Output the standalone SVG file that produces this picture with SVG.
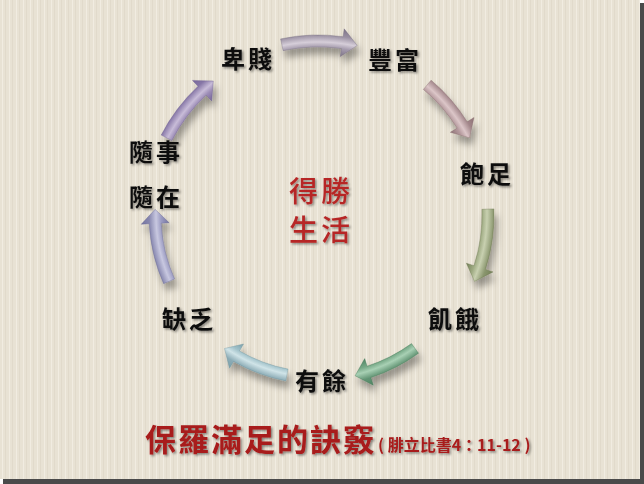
<svg xmlns="http://www.w3.org/2000/svg" width="644" height="484" viewBox="0 0 644 484">
<defs>
<pattern id="stripes" x="0" y="0" width="7" height="10" patternUnits="userSpaceOnUse">
<rect x="0" y="0" width="7" height="10" fill="#e8e2d4"/>
<rect x="2" y="0" width="1" height="10" fill="#f1ece1"/>
<rect x="5" y="0" width="1" height="10" fill="#e1dacb"/>
</pattern>
<filter id="ashadow" x="-30%" y="-30%" width="160%" height="170%">
<feDropShadow dx="3" dy="7" stdDeviation="3.5" flood-color="#000" flood-opacity="0.35"/>
</filter>
<filter id="tshadow" x="-10%" y="-10%" width="130%" height="140%">
<feDropShadow dx="1.5" dy="1.5" stdDeviation="1" flood-color="#000" flood-opacity="0.45"/>
</filter>
<radialGradient id="g1" gradientUnits="userSpaceOnUse" cx="318" cy="215" r="200">
<stop offset="0.80" stop-color="#7e7488"/><stop offset="0.84" stop-color="#a69cae"/><stop offset="0.865" stop-color="#d6ced9"/><stop offset="0.90" stop-color="#9a90a2"/><stop offset="0.94" stop-color="#7e7488"/>
</radialGradient>
<radialGradient id="g2" gradientUnits="userSpaceOnUse" cx="318" cy="215" r="200">
<stop offset="0.78" stop-color="#8e7276"/><stop offset="0.82" stop-color="#b59a9e"/><stop offset="0.845" stop-color="#dcc6c8"/><stop offset="0.88" stop-color="#a2868a"/><stop offset="0.92" stop-color="#8e7276"/>
</radialGradient>
<radialGradient id="g3" gradientUnits="userSpaceOnUse" cx="318" cy="215" r="200">
<stop offset="0.78" stop-color="#748058"/><stop offset="0.82" stop-color="#9eaa82"/><stop offset="0.845" stop-color="#c8d0b0"/><stop offset="0.88" stop-color="#8a966e"/><stop offset="0.92" stop-color="#748058"/>
</radialGradient>
<radialGradient id="g4" gradientUnits="userSpaceOnUse" cx="318" cy="215" r="200">
<stop offset="0.755" stop-color="#4e8462"/><stop offset="0.795" stop-color="#76a886"/><stop offset="0.82" stop-color="#a8d0b4"/><stop offset="0.855" stop-color="#629474"/><stop offset="0.895" stop-color="#4e8462"/>
</radialGradient>
<radialGradient id="g5" gradientUnits="userSpaceOnUse" cx="318" cy="215" r="200">
<stop offset="0.745" stop-color="#7aa0aa"/><stop offset="0.785" stop-color="#a2c2ca"/><stop offset="0.81" stop-color="#d0e4e8"/><stop offset="0.845" stop-color="#8cacb6"/><stop offset="0.885" stop-color="#7aa0aa"/>
</radialGradient>
<radialGradient id="g6" gradientUnits="userSpaceOnUse" cx="318" cy="215" r="200">
<stop offset="0.745" stop-color="#7474a0"/><stop offset="0.785" stop-color="#9c9cc2"/><stop offset="0.81" stop-color="#c8c8e0"/><stop offset="0.845" stop-color="#8686ae"/><stop offset="0.885" stop-color="#7474a0"/>
</radialGradient>
<radialGradient id="g7" gradientUnits="userSpaceOnUse" cx="318" cy="215" r="200">
<stop offset="0.78" stop-color="#76669a"/><stop offset="0.82" stop-color="#9c8cb6"/><stop offset="0.845" stop-color="#c8bcd8"/><stop offset="0.88" stop-color="#8676a6"/><stop offset="0.92" stop-color="#76669a"/>
</radialGradient>
<style>
.lbl{font-family:"Noto Sans CJK TC","Noto Sans CJK SC",sans-serif;font-weight:700;font-size:24px;letter-spacing:3px;fill:#111;text-anchor:middle}
.ctr{font-family:"Noto Sans CJK TC","Noto Sans CJK SC",sans-serif;font-weight:500;font-size:29px;letter-spacing:3px;fill:#b41e1e;text-anchor:middle}
.ttl{font-family:"Noto Sans CJK TC","Noto Sans CJK SC",sans-serif;font-weight:700;font-size:31px;letter-spacing:2px;fill:#a81a1a}
.sub{font-family:"Noto Sans CJK TC","Noto Sans CJK SC",sans-serif;font-weight:700;font-size:16px;fill:#a81a1a}
.arr{stroke-width:0.6;stroke-opacity:0.6}
</style>
</defs>
<rect x="0" y="0" width="644" height="484" fill="#ffffff"/>
<rect x="3" y="3" width="641" height="481" fill="#4a4a4a"/>
<rect x="0" y="0" width="640" height="479" fill="url(#stripes)"/>

<g id="connectors" filter="url(#ashadow)">
<path class="arr" fill="url(#g1)" stroke="#6e6478" d="M280.6,38.9 A180,180 0 0,1 343.1,36.7 L344.2,28.8 L357.2,45.5 L340.3,56.6 L341.4,48.6 A168,168 0 0,0 283.1,50.7 Z"/>
<path class="arr" fill="url(#g2)" stroke="#7e6266" d="M431.1,80.2 A176,176 0 0,1 467.2,121.7 L474.0,117.5 L469.5,137.8 L450.3,132.3 L457.1,128.1 A164,164 0 0,0 423.4,89.4 Z"/>
<path class="arr" fill="url(#g3)" stroke="#647048" d="M493.9,208.9 A176,176 0 0,1 485.4,269.4 L493.0,271.9 L474.5,281.4 L466.4,263.2 L474.0,265.7 A164,164 0 0,0 481.9,209.3 Z"/>
<path class="arr" fill="url(#g4)" stroke="#3e7452" d="M418.5,353.3 A171,171 0 0,1 370.8,377.6 L373.3,385.2 L355.1,375.8 L364.7,358.6 L367.1,366.2 A159,159 0 0,0 411.5,343.6 Z"/>
<path class="arr" fill="url(#g5)" stroke="#6a909a" d="M285.8,380.9 A169,169 0 0,1 233.5,361.4 L229.5,368.3 L224.5,348.5 L243.5,344.0 L239.5,351.0 A157,157 0 0,0 288.0,369.1 Z"/>
<path class="arr" fill="url(#g6)" stroke="#646490" d="M163.6,283.7 A169,169 0 0,1 149.2,223.8 L141.2,224.3 L155.1,209.3 L169.2,222.8 L161.2,223.2 A157,157 0 0,0 174.6,278.9 Z"/>
<path class="arr" fill="url(#g7)" stroke="#66568a" d="M161.2,135.1 A176,176 0 0,1 198.0,86.3 L192.5,80.4 L213.3,81.0 L211.6,100.9 L206.2,95.1 A164,164 0 0,0 171.9,140.5 Z"/>
</g>

<g filter="url(#tshadow)">
<g id="node-beijian"><text class="lbl" x="248" y="68">卑賤</text></g>
<g id="node-fengfu"><text class="lbl" x="395" y="69">豐富</text></g>
<g id="node-baozu"><text class="lbl" x="487" y="183">飽足</text></g>
<g id="node-jie"><text class="lbl" x="455" y="328">飢餓</text></g>
<g id="node-youyu"><text class="lbl" x="322" y="390">有餘</text></g>
<g id="node-quefa"><text class="lbl" x="189" y="328">缺乏</text></g>
<g id="node-suishi"><text class="lbl" x="156" y="161">隨事</text><text class="lbl" x="156" y="206">隨在</text></g>
</g>
<g id="node-center" filter="url(#tshadow)" opacity="0.95">
<text class="ctr" x="321" y="202">得勝</text>
<text class="ctr" x="321" y="241">生活</text>
</g>
<g id="title" filter="url(#tshadow)">
<text class="ttl" x="145" y="451">保羅滿足的訣竅</text>
<text class="sub" x="378" y="451" xml:space="preserve">( 腓立比書4：11-12 )</text>
</g>
</svg>
